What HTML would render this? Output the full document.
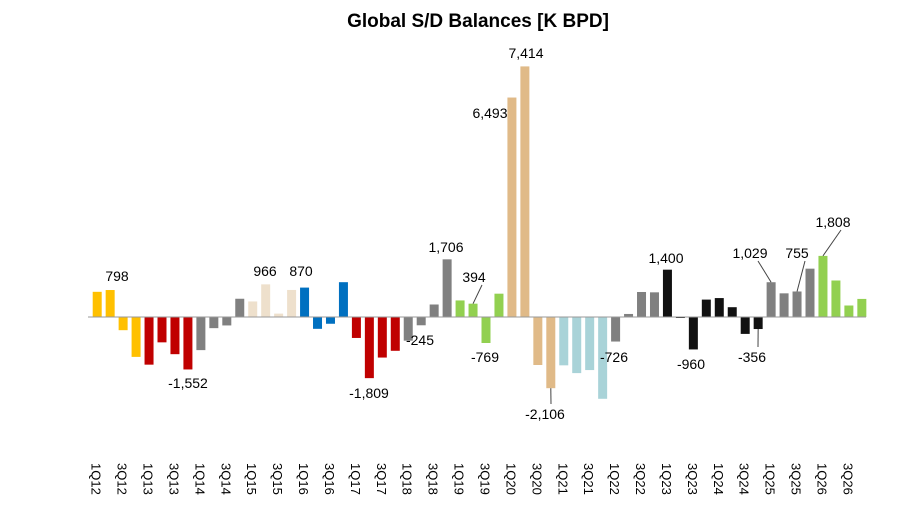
<!DOCTYPE html>
<html><head><meta charset="utf-8"><style>
body{margin:0;background:#fff;}
svg{display:block;font-family:"Liberation Sans",Arial,sans-serif;}
</style></head><body>
<svg id="chart" width="915" height="510">
<text x="478" y="27" text-anchor="middle" font-size="19" font-weight="bold" fill="#000">Global S/D Balances [K BPD]</text>
<g id="bars"></g>
<g id="labels"></g>
<g id="ticks"></g>
</svg>
<script>
const values=[745,798,-390,-1180,-1410,-750,-1100,-1552,-980,-330,-250,540,460,966,100,800,870,-350,-200,1030,-620,-1809,-1200,-1000,-700,-245,370,1706,490,394,-769,690,6493,7414,-1420,-2106,-1430,-1660,-1570,-2420,-726,90,740,730,1400,-20,-960,515,560,290,-500,-356,1029,700,755,1430,1808,1080,340,535];
const colorGroups=['y','y','y','y','r','r','r','r','g','g','g','g','b','b','b','b','u','u','u','u','r','r','r','r','g','g','g','g','n','n','n','n','t','t','t','t','l','l','l','l','g','g','g','g','k','k','k','k','k','k','k','k','g','g','g','g','n','n','n','n'];
const labelIdx=[1,7,13,16,21,25,27,29,30,32,33,35,40,44,46,51,52,54,56];
const NS='http://www.w3.org/2000/svg';
const palette={y:'#FFC000',r:'#C00000',g:'#808080',b:'#EEE0CC',u:'#0070C0',n:'#92D050',t:'#E0BA88',l:'#A9D3D8',k:'#111111'};
const x0=92.7,step=12.96,bw=9,y0=317,sc=0.0338;
const X=i=>x0+i*step;
const Y=v=>y0-v*sc;
const fmt=v=>(v<0?'-':'')+Math.abs(v).toLocaleString('en-US');
const bars=document.getElementById('bars');
values.forEach((v,i)=>{
 const r=document.createElementNS(NS,'rect');
 r.setAttribute('x',X(i));r.setAttribute('width',bw);
 r.setAttribute('y',Math.min(Y(v),y0));r.setAttribute('height',Math.max(Math.abs(v*sc),1));
 r.setAttribute('fill',palette[colorGroups[i]]);
 
 
 bars.appendChild(r);
});
const ax=document.createElementNS(NS,'line');
ax.setAttribute('x1',88);ax.setAttribute('x2',866);ax.setAttribute('y1',y0);ax.setAttribute('y2',y0);
ax.setAttribute('stroke','#999');ax.setAttribute('stroke-width','1');


bars.appendChild(ax);
// label offsets [dx,dy,leader]
const off={1:[-3,0],7:[-15,0],13:[0,0],16:[0,0],21:[0,0],25:[16,-4],27:[0,0],29:[0,0,1],30:[0,0],32:[-14,0],33:[0,0],35:[0,0,1],40:[0,0],44:[0,0],46:[0,0],51:[-4,0,1],52:[-14,0,1],54:[-4,0,1],56:[0,0,1]};
const labelPos={1:[117,281],7:[188,388],13:[265,276],16:[301,276],21:[369,398],25:[420,345],27:[446,252],29:[474,282],30:[485,362],32:[490,118],33:[526,58],35:[545,419],40:[614,362],44:[666,263],46:[691,369],51:[752,362],52:[750,258],54:[797,258],56:[833,227]};
const lg=document.getElementById('labels');
labelIdx.forEach(i=>{
 const p=labelPos[i];
 const t=document.createElementNS(NS,'text');
 t.setAttribute('x',p[0]);t.setAttribute('y',p[1]);
 t.setAttribute('text-anchor','middle');t.setAttribute('font-size','14');t.setAttribute('fill','#000');
 t.textContent=fmt(values[i]);
 
 
 lg.appendChild(t);
 if(off[i]&&off[i][2]){
  const l=document.createElementNS(NS,'line');
  const bx=X(i)+bw/2, by=Y(values[i]);
  const ly=values[i]>=0?p[1]+3:p[1]-15;
  l.setAttribute('x1',values[i]>=0?p[0]+8:p[0]+6);l.setAttribute('y1',ly);
  l.setAttribute('x2',bx);l.setAttribute('y2',by);
  l.setAttribute('stroke','#444');l.setAttribute('stroke-width','1');
  
  
  lg.appendChild(l);
 }
});
const tg=document.getElementById('ticks');
for(let i=0;i<values.length;i+=2){
 const q=(i%4)+1, yr=12+Math.floor(i/4);
 const cx=X(i)+bw/2-1;
 const t=document.createElementNS(NS,'text');
 t.setAttribute('x',0);t.setAttribute('y',0);
 t.setAttribute('font-size','13');t.setAttribute('fill','#000');
 t.setAttribute('transform','translate('+(cx-4.5)+',463) rotate(90)');
 t.textContent=q+'Q'+yr;
 
 
 tg.appendChild(t);
}
</script>
</body></html>
